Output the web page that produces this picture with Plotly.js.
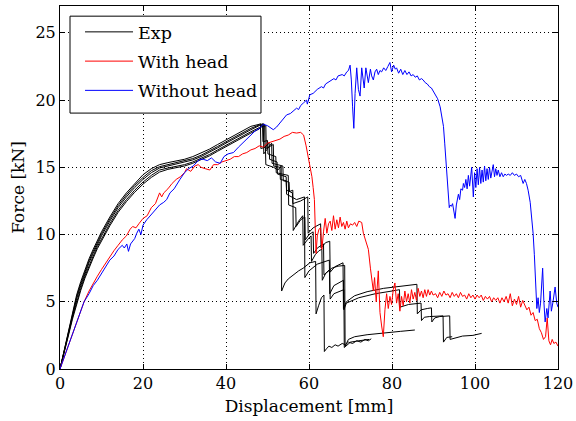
<!DOCTYPE html>
<html><head><meta charset="utf-8">
<script src="https://cdn.plot.ly/plotly-3.0.1.min.js"></script>
<style>html,body{margin:0;padding:0;background:#fff}#chart{width:576px;height:421px}</style>
</head><body><div id="chart"></div>
<script>
// ---- Experimental curves (Exp) : common rising x, per-test y ----
const expRiseX = [0,1,2,3,4,5,6,7,8,9,10,12,14,16,18,20,22,24,26,28,30,32,34,36,38,40,42,44,46,48];
const exp1RiseY = [0,1.4,2.9,4.3,5.5,6.5,7.4,8.2,8.9,9.6,10.2,11.3,12.3,13.1,13.8,14.45,14.9,15.2,15.35,15.45,15.6,15.8,16.05,16.35,16.7,17.05,17.4,17.75,18.05,18.2];
const exp2RiseY = [0,1.35,2.8,4.15,5.35,6.35,7.25,8.05,8.75,9.45,10.05,11.15,12.15,12.95,13.65,14.25,14.75,15.05,15.2,15.3,15.45,15.65,15.9,16.2,16.55,16.9,17.25,17.6,17.9,18.15];
const exp3RiseY = [0,1.3,2.7,4.0,5.2,6.2,7.1,7.9,8.6,9.3,9.9,11.0,12.0,12.8,13.5,14.1,14.6,14.95,15.1,15.2,15.35,15.55,15.8,16.1,16.45,16.8,17.15,17.5,17.8,18.1];
const exp4RiseY = [0,1.2,2.55,3.85,5.0,6.0,6.9,7.7,8.4,9.1,9.7,10.8,11.8,12.6,13.3,13.9,14.4,14.8,14.95,15.05,15.2,15.4,15.65,15.95,16.3,16.65,17.0,17.35,17.65,17.95];
const exp5RiseY = [0,1.15,2.45,3.7,4.85,5.85,6.75,7.55,8.25,8.95,9.55,10.65,11.65,12.45,13.15,13.75,14.25,14.65,14.85,14.95,15.1,15.3,15.55,15.85,16.2,16.55,16.9,17.25,17.55,17.85];

const exp1TailX = [48.3,48.4,49.5,49.6,51.5,52.5,53.3,53.4,54.2,55.0,56.2,57.5,58.6,60.2,61.6,61.7,62.3,63.0,63.6,63.7,64.2,64.8,65.5,66.3,67.0,68.0,68.8,69.5,70.5,71.5,72.5,73.5,74.3,75.0];
const exp1TailY = [18.25,16.4,16.5,15.2,15.0,14.8,15.1,5.8,6.4,6.7,7.0,7.3,7.5,7.9,8.0,4.1,4.7,5.3,5.5,1.3,1.5,1.7,1.6,1.8,1.7,1.9,1.8,2.0,1.9,2.1,2.0,2.2,2.1,2.25];
const exp2TailX = [49.0,49.1,50.5,51.0,51.1,53.7,53.8,55.2,55.3,56.1,56.2,57.5,58.5,58.6,59.6,60.5,60.6,61.5,62.4,63.1,63.2,64.0,65.5,67.0,68.6,68.7,69.5,71.0,74.0,78.0,82.0,85.5];
const exp2TailY = [18.25,16.0,16.6,16.8,15.3,15.1,14.0,13.9,13.2,13.3,10.3,11.0,11.4,9.2,9.6,9.9,8.0,8.5,8.8,8.9,6.6,7.1,7.5,7.65,7.7,1.7,2.2,2.4,2.55,2.7,2.8,2.9];
const exp3TailX = [49.3,49.4,50.4,50.5,52.3,52.4,54.5,54.6,57.0,58.9,59.0,60.0,62.0,64.9,65.0,66.0,67.5,68.3,68.4,69.0,72.0,76.0,80.0,81.8,81.9,84.0,87.0,87.1,87.8,89.0,92.3,92.4,93.2,94.5];
const exp3TailY = [18.2,16.5,16.8,15.6,15.4,14.5,14.3,13.0,12.6,12.8,6.8,7.3,7.8,8.1,5.6,6.2,6.5,6.6,4.4,4.9,5.3,5.6,5.8,5.9,4.6,4.8,4.9,3.6,3.85,3.9,3.95,2.0,2.35,2.4];
const exp4TailX = [49.6,49.7,50.8,51.4,51.5,53.0,53.1,54.5,54.6,56.0,56.1,58.0,59.7,59.8,61.0,62.8,62.9,64.0,65.0,65.1,66.2,68.2,68.3,69.0,71.0,74.0,78.0,82.0,86.0,86.1,87.0,88.5,89.5,89.6,90.3,91.5,93.9,94.0,95.0,97.0,99.5,101.6];
const exp4TailY = [18.1,16.4,16.6,16.7,15.1,15.0,14.1,14.0,13.3,13.1,12.3,12.5,12.8,10.1,10.5,10.8,9.0,9.4,9.5,7.2,7.6,7.9,4.5,5.0,5.45,5.75,6.0,6.15,6.3,4.1,4.4,4.5,4.55,3.5,3.8,3.9,3.95,2.2,2.3,2.45,2.5,2.65];
const exp5TailX = [48.8,48.9,50.0,50.1,52.0,52.1,55.0,55.1,56.8,56.9,58.0,59.0,59.1,60.0,61.0,61.1,62.0,63.5,63.6,65.0,65.1,66.0,68.0,68.4,68.5,70.0,72.0,74.5];
const exp5TailY = [18.2,16.9,17.0,16.0,15.8,14.6,14.4,12.2,12.0,10.6,11.1,11.3,9.6,10.0,10.2,8.6,9.0,9.3,7.0,7.4,5.2,5.6,5.9,5.9,1.6,2.0,2.1,2.2];

// ---- Simulation: with head (red) ----
const redX = [0,2,4,5.8,7,8,9,10,11,12,13,14,15,16,16.9,17.5,18.3,19,20,21,22,23,24,24.5,25,26,27,28,29,30,30.5,31.5,32.5,33.3,34,35,36.1,37,38,39,40,41,42,43,44,45,46,47,48,49,50,51,52,53,54,55,56,57,58,58.7,59.3,59.8,60.3,60.7,61.0,61.3,61.5,61.7,62.0,62.4,62.8,63.1,63.5,63.9,64.3,64.7,65.1,65.5,65.9,66.3,66.7,67.1,67.5,67.9,68.3,68.7,69.1,69.5,70,70.5,71,71.5,72,72.7,73.1,73.7,74.3,74.8,75.1,75.5,75.8,76.2,76.7,77.1,77.5,77.9,78.3,78.7,79.1,79.5,79.9,80.3,80.7,81.1,81.5,81.9,82.3,82.7,83.1,83.5,83.9,84.3,84.7,85.1,85.5,85.9,86.3,86.7,87.1,87.5,87.9,88.3,88.7,89.1,89.5,89.9,90.5,91,91.5,92,92.5,93,93.5,94,94.5,95,95.5,96,96.5,97,97.5,98,98.5,99,99.5,100,100.5,101,101.5,102,102.5,103,103.5,104,104.5,105,105.5,106,106.5,107,107.5,108,108.5,109,109.5,110,110.5,111,111.5,112,112.5,113,113.5,114,114.5,115,115.5,116,116.5,117,117.4,117.8,118.2,118.6,119,119.5,120];
const redY = [0,1.7,3.4,5.0,5.8,6.4,6.9,7.4,7.9,8.4,8.8,9.2,9.6,9.9,10.4,10.6,10.5,10.8,11.2,11.4,12.0,12.3,13.1,12.8,13.1,13.4,13.8,14.1,14.3,14.6,14.9,14.7,15.1,15.2,15.0,14.9,14.8,15.2,15.2,15.4,15.5,15.6,15.8,15.8,16.0,16.1,16.3,16.4,16.6,16.5,16.8,16.9,17.0,17.1,17.3,17.4,17.6,17.55,17.6,17.4,16.6,15.8,15.0,14.3,13.5,12.6,10.6,8.6,9.9,10.4,10.5,8.9,10.2,11.2,10.1,10.8,11.0,10.3,11.4,10.4,11.1,10.5,11.3,10.6,10.9,10.4,11.0,10.5,10.8,10.7,10.9,10.6,11.0,10.9,10.1,9.5,8.9,7.5,6.6,5.8,6.8,5.0,7.3,4.2,3.2,2.4,4.4,5.6,4.5,5.4,4.8,5.9,6.4,4.9,5.6,4.3,5.4,4.7,5.8,5.0,5.6,4.9,5.9,5.2,5.7,5.1,6.0,5.4,5.8,5.3,5.9,5.4,5.9,5.5,5.8,5.5,5.6,5.3,5.7,5.4,5.8,5.5,5.6,5.3,5.7,5.4,5.6,5.3,5.7,5.4,5.5,5.2,5.6,5.3,5.5,5.2,5.5,5.3,5.5,5.1,5.4,5.2,5.4,5.0,5.3,5.1,5.3,4.9,5.3,5.0,5.4,4.9,5.6,4.7,5.2,4.8,5.4,4.6,5.1,4.7,4.4,4.6,4.0,4.2,3.6,3.7,3.0,2.7,2.2,2.4,3.8,2.1,1.8,2.2,1.9,2.0,1.7];

// ---- Simulation: without head (blue) ----
const blueX = [0,2,4,5.8,7,8,9,10,11,12,13,14,15,15.5,16.1,16.5,17,18,18.5,19,19.5,20,20.9,22,23,24,25,25.7,26.5,27.5,28.9,30,31,32.1,33,33.7,34.5,35.5,36.5,37.5,38.6,39.5,40.5,41.8,43,44,45,46,47,48,49,50,51.4,52.2,53,53.8,54.6,55.5,56.2,57,57.5,58,58.7,59.4,59.6,60.2,61,62,63,63.5,64,65.1,66,66.5,67,68,68.5,69.1,69.5,69.9,70.2,70.5,70.8,71.1,71.5,71.9,72.3,72.7,73.0,73.3,73.7,74.0,74.3,74.8,75.1,75.5,75.9,76.3,76.7,77.1,77.5,78,78.5,79,79.5,79.9,80.4,80.8,81.1,81.6,82.1,82.6,83.1,83.6,84.1,84.6,85.1,85.6,86.1,86.6,87.1,87.5,88,88.5,89,89.5,90,90.5,91,91.6,92,92.4,92.7,93.1,93.4,93.6,93.8,94,94.3,94.6,95.0,95.2,95.5,96,96.3,96.6,97.0,97.2,97.5,97.8,98.1,98.4,98.7,99.0,99.2,99.6,99.9,100.2,100.5,100.8,101.1,101.4,101.7,102,102.3,102.6,102.9,103.2,103.5,103.8,104.1,104.4,104.7,105,105.3,105.6,106,106.4,106.8,107.2,107.6,108,108.5,109,109.5,110,110.5,111,111.6,112,112.4,112.8,113.3,113.7,114,114.3,114.5,114.7,114.9,115.2,115.5,115.8,116.3,116.6,116.9,117.3,117.6,118.1,118.4,118.8,119.3,119.7,120];
const blueY = [0,1.7,3.4,5.0,5.6,6.2,6.6,7.1,7.6,8.1,8.4,8.9,9.2,9.0,9.3,8.75,9.3,9.7,10.1,10.4,10.0,10.7,11.1,11.5,11.9,12.2,12.4,12.6,13.1,13.4,14.1,14.6,14.9,15.1,15.4,15.6,15.6,15.5,15.7,15.4,15.3,15.8,16.0,16.1,16.5,16.8,17.1,17.4,17.7,17.9,18.2,18.1,17.8,18.0,18.3,18.55,18.9,19.0,19.2,19.4,19.3,19.6,19.8,20.0,19.7,20.4,20.5,20.8,21.0,20.9,21.2,21.4,21.6,21.5,21.8,21.9,21.8,22.1,22.2,22.6,21.5,19.5,17.9,20.5,22.4,20.8,20.3,22.4,21.6,20.9,22.4,21.8,21.3,22.3,21.8,21.5,22.1,22.3,21.9,22.2,22.1,22.4,22.2,22.5,22.8,22.1,22.6,22.3,22.4,22.0,22.3,21.9,22.2,21.9,22.1,21.8,21.9,21.7,21.8,21.5,21.6,21.5,21.3,21.2,21.0,20.9,20.65,20.4,20.1,19.5,18.9,18.05,16.8,15.3,14.0,12.8,12.0,12.2,12.1,12.3,11.7,11.2,12.2,13.0,12.6,13.4,13.3,13.8,13.5,14.1,13.4,14.4,13.6,14.8,15.0,12.8,14.6,13.5,14.9,13.7,15.0,13.8,14.8,13.9,15.1,14.0,14.9,14.1,15.0,14.2,14.9,15.2,14.3,14.9,14.4,14.8,14.3,14.6,14.3,14.5,14.4,14.5,14.4,14.6,14.4,14.5,14.3,14.4,13.8,14.1,13.8,13.3,12.4,11.2,10.1,8.5,7.1,5.5,4.5,5.3,4.2,4.9,7.5,5.0,3.5,4.5,3.8,5.8,4.3,5.0,6.1,4.9,4.6];

const legendNames = ['Exp', 'With head', 'Without head'];

const FONT = 'DejaVu Serif, serif';
const expSets = [
  [exp1RiseY, exp1TailX, exp1TailY],
  [exp2RiseY, exp2TailX, exp2TailY],
  [exp3RiseY, exp3TailX, exp3TailY],
  [exp4RiseY, exp4TailX, exp4TailY],
  [exp5RiseY, exp5TailX, exp5TailY]
];
const traces = [];
expSets.forEach((s, i) => {
  traces.push({
    type: 'scatter', mode: 'lines',
    x: expRiseX.concat(s[1]), y: s[0].concat(s[2]),
    line: {color: '#000000', width: 1},
    name: legendNames[0], legendgroup: 'exp', showlegend: i === 0
  });
});
traces.push({type:'scatter', mode:'lines', x: redX, y: redY, name: legendNames[1], legendgroup:'red',
  line:{color:'#ff0000', width:1}});
traces.push({type:'scatter', mode:'lines', x: blueX, y: blueY, name: legendNames[2], legendgroup:'blue',
  line:{color:'#0000ff', width:1}});

const axisCommon = {
  showline: true, linecolor: '#000', linewidth: 1, mirror: 'ticks',
  ticks: 'inside', ticklen: 5, tickcolor: '#000', tickwidth: 1,
  showgrid: true, gridcolor: '#000', griddash: '1px,3px', gridwidth: 1,
  zeroline: false, tickfont: {family: FONT, size: 16, color: '#000'}
};
const layout = {
  width: 576, height: 421,
  margin: {l: 60, r: 18, t: 6, b: 52},
  paper_bgcolor: '#fff', plot_bgcolor: '#fff',
  showlegend: true,
  legend: {x: 0.0402, y: 0.978, xanchor: 'left', yanchor: 'top', bgcolor: 'rgba(0,0,0,0)',
    borderwidth: 0, font: {family: FONT, size: 17.5, color: '#000'},
    tracegroupgap: 3.5, itemwidth: 48},
  shapes: [{type: 'rect', xref: 'paper', yref: 'paper', layer: 'above',
    x0: 0.0201, x1: 0.4036, y0: 0.705, y1: 0.972,
    line: {color: '#000', width: 1}, fillcolor: '#fff'}],
  xaxis: Object.assign({}, axisCommon, {range: [0, 120], dtick: 20,
    title: {text: 'Displacement [mm]', font: {family: FONT, size: 17, color: '#000'}, standoff: 7}}),
  yaxis: Object.assign({}, axisCommon, {range: [0, 27], dtick: 5,
    title: {text: 'Force [kN]', font: {family: FONT, size: 17, color: '#000'}, standoff: 6}})
};
Plotly.newPlot('chart', traces, layout, {staticPlot: true, displayModeBar: false});
</script></body></html>
